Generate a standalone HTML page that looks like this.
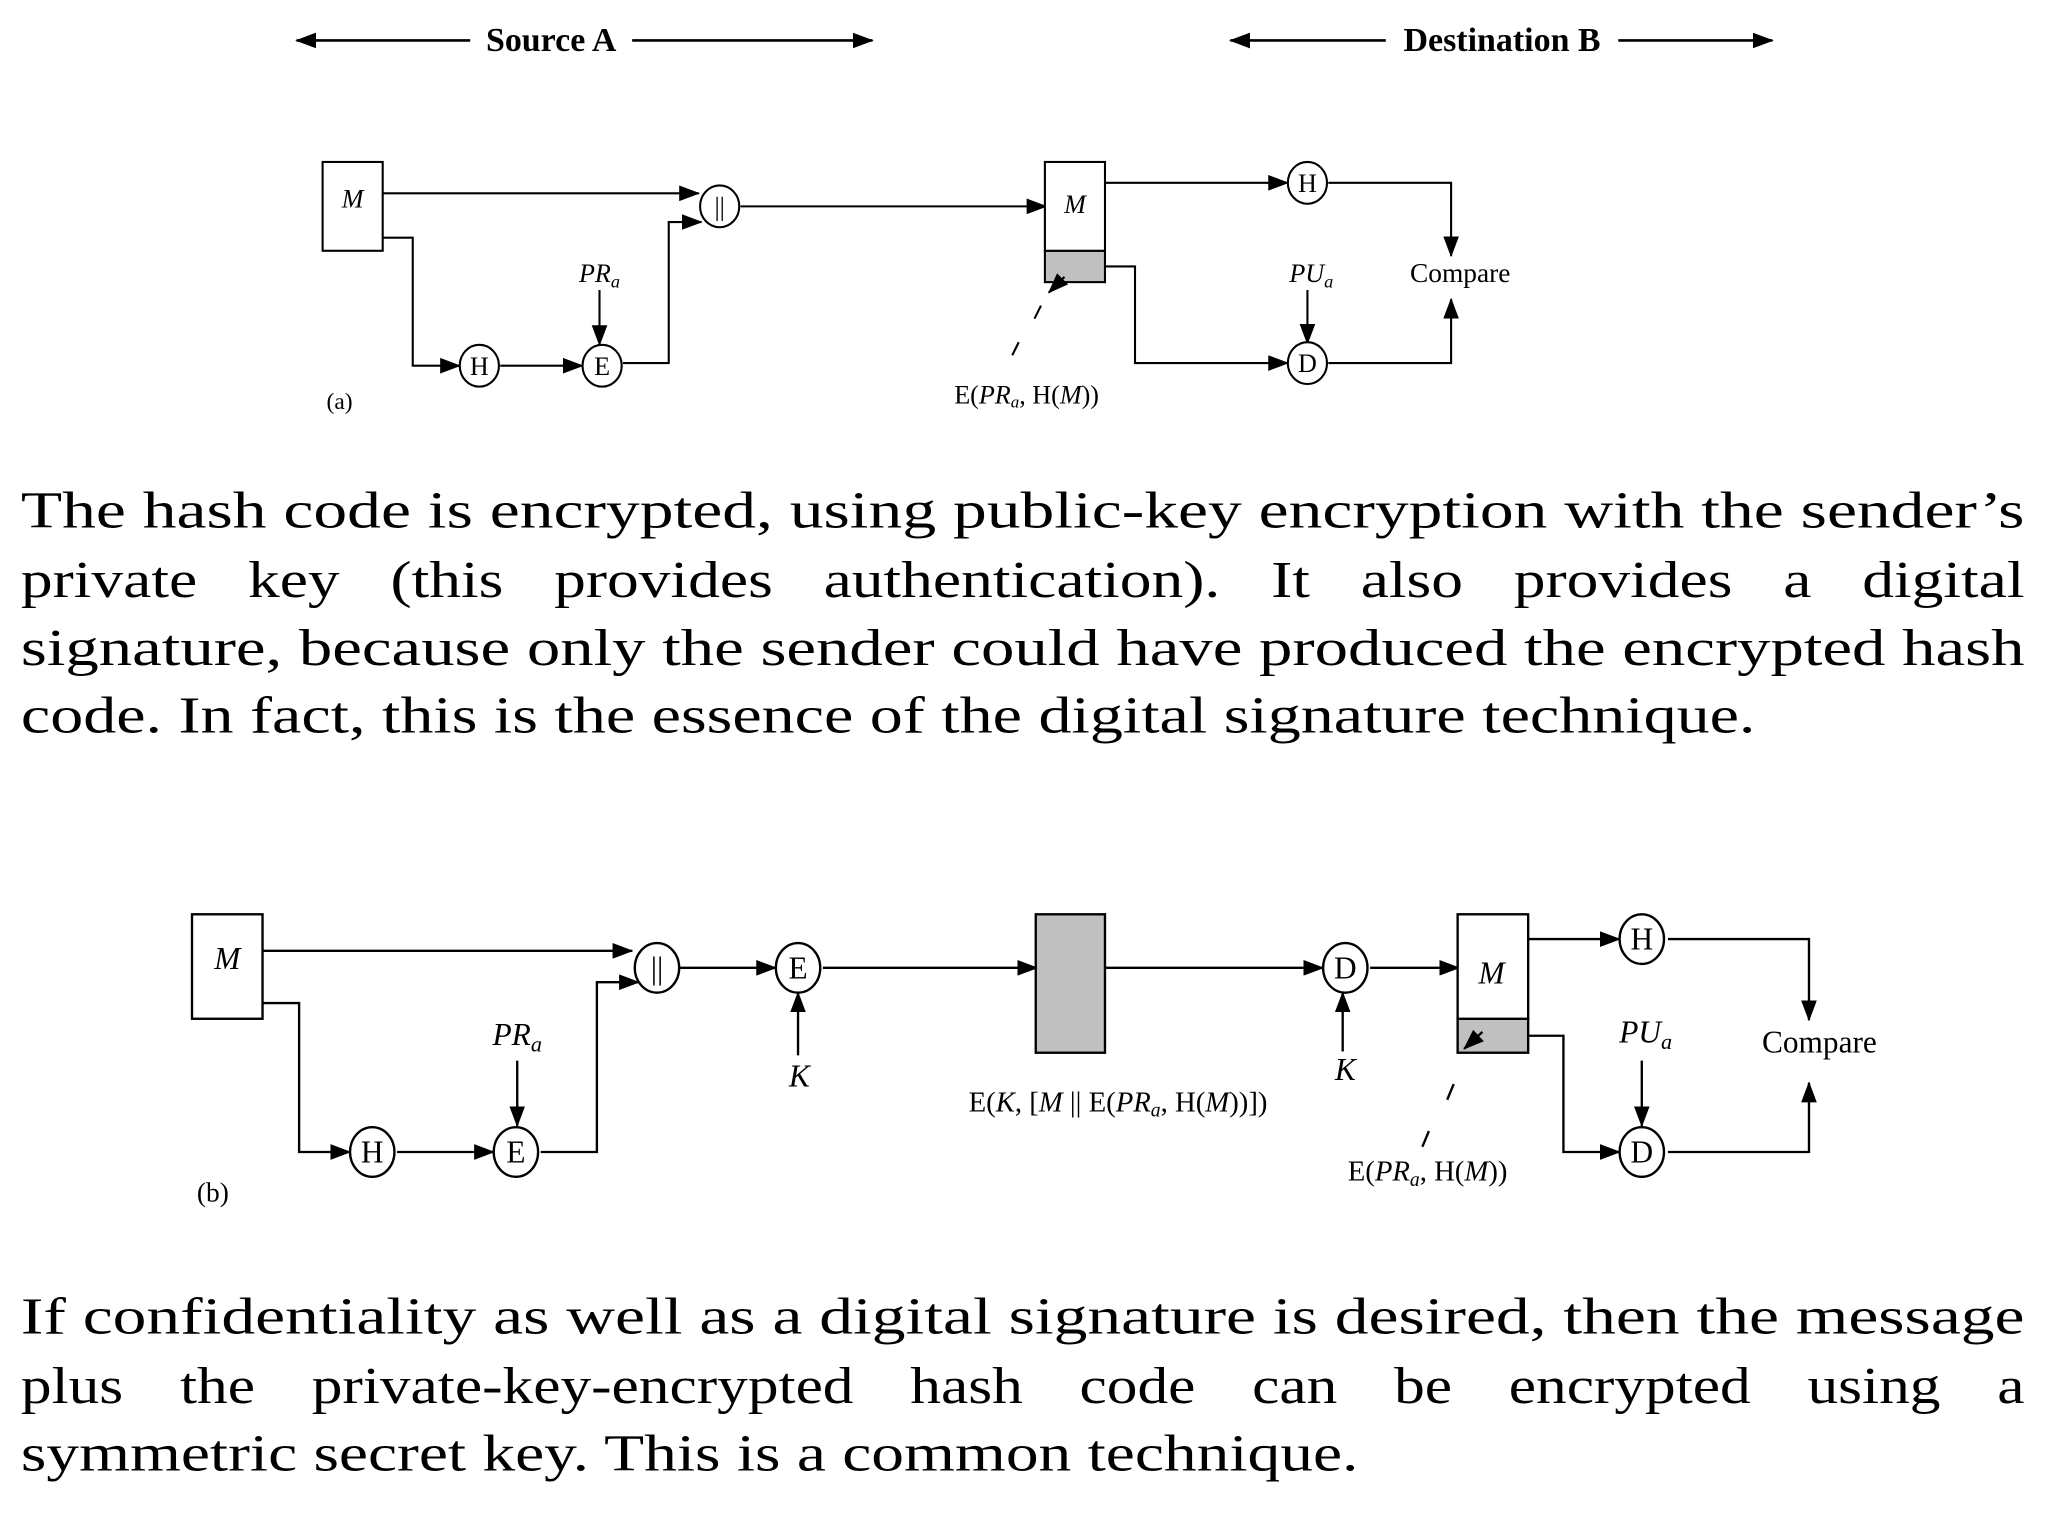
<!DOCTYPE html>
<html><head><meta charset="utf-8"><style>
html,body{margin:0;padding:0;background:#fff;}
svg{display:block;}
.d{font-family:"Liberation Serif",serif;}
</style></head><body>
<svg width="2048" height="1536" viewBox="0 0 1568 1176" xmlns="http://www.w3.org/2000/svg">
<defs>
<marker id="a" markerUnits="userSpaceOnUse" markerWidth="16" markerHeight="12" refX="15" refY="6" orient="auto">
<path d="M0,0 L16,6 L0,12 z" fill="#000"/></marker>
</defs>
<rect width="1568" height="1176" fill="#fff"/>
<g stroke="#000" stroke-width="2" fill="none">
<line x1="360" y1="31" x2="227" y2="31" marker-end="url(#a)"/>
<line x1="484" y1="31" x2="668" y2="31" marker-end="url(#a)"/>
<line x1="1061" y1="31" x2="942" y2="31" marker-end="url(#a)"/>
<line x1="1239" y1="31" x2="1357" y2="31" marker-end="url(#a)"/>
</g>
<g class="d" font-weight="bold" font-size="26" text-anchor="middle">
<text x="422" y="39">Source A</text>
<text x="1150" y="39">Destination B</text>
</g>

<g stroke="#000" stroke-width="1.6" fill="none">
<rect x="247" y="124" width="46" height="68" fill="#fff"/>
<path d="M293,148 H535" marker-end="url(#a)"/>
<path d="M293,182 H316 V280 H352" marker-end="url(#a)"/>
<path d="M383,280 H446" marker-end="url(#a)"/>
<path d="M459,222 V264" marker-end="url(#a)"/>
<path d="M477,278 H512 V170 H537" marker-end="url(#a)"/>
<path d="M567,158 H801" marker-end="url(#a)"/>
<rect x="800" y="192" width="46" height="24" fill="#c0c0c0"/>
<rect x="800" y="124" width="46" height="68" fill="#fff"/>
<path d="M846,140 H986" marker-end="url(#a)"/>
<path d="M1017,140 H1111 V196" marker-end="url(#a)"/>
<path d="M846,204 H869 V278 H986" marker-end="url(#a)"/>
<path d="M1001,222 V263" marker-end="url(#a)"/>
<path d="M1017,278 H1111 V229" marker-end="url(#a)"/>
<path d="M815,212 L803,224" marker-end="url(#a)"/>
<path d="M797,234 L792,244 M780,262 L775,272"/>
<ellipse cx="551" cy="158" rx="15" ry="16" fill="#fff"/>
<ellipse cx="367" cy="280" rx="15" ry="16" fill="#fff"/>
<ellipse cx="461" cy="280" rx="15" ry="16" fill="#fff"/>
<ellipse cx="1001" cy="140" rx="15" ry="16" fill="#fff"/>
<ellipse cx="1001" cy="278" rx="15" ry="16" fill="#fff"/>
</g>
<g class="d" font-size="20" text-anchor="middle">
<text x="270" y="159" font-style="italic">M</text>
<text x="823" y="163" font-style="italic">M</text>
<text x="551" y="165">||</text>
<text x="367" y="287">H</text>
<text x="461" y="287">E</text>
<text x="1001" y="147">H</text>
<text x="1001" y="285">D</text>
<text x="459" y="216" font-style="italic">PR<tspan font-size="14" dy="4">a</tspan></text>
<text x="1004" y="216" font-style="italic">PU<tspan font-size="14" dy="4">a</tspan></text>
<text x="1118" y="216" font-size="21">Compare</text>
<text x="786" y="309">E(<tspan font-style="italic">PR</tspan><tspan font-size="13" dy="3" font-style="italic">a</tspan><tspan dy="-3">, H(</tspan><tspan font-style="italic">M</tspan>))</text>
<text x="260" y="313" font-size="18">(a)</text>
</g>

<g stroke="#000" stroke-width="1.8" fill="none">
<rect x="147" y="700" width="54" height="80" fill="#fff"/>
<path d="M201,728 H484" marker-end="url(#a)"/>
<path d="M201,768 H229 V882 H268" marker-end="url(#a)"/>
<path d="M304,882 H378" marker-end="url(#a)"/>
<path d="M396,812 V862" marker-end="url(#a)"/>
<path d="M414,882 H457 V752 H489" marker-end="url(#a)"/>
<path d="M520,741 H594" marker-end="url(#a)"/>
<path d="M611,808 V760" marker-end="url(#a)"/>
<path d="M630,741 H794" marker-end="url(#a)"/>
<rect x="793" y="700" width="53" height="106" fill="#c0c0c0"/>
<path d="M846,741 H1013" marker-end="url(#a)"/>
<path d="M1028,805 V760" marker-end="url(#a)"/>
<path d="M1049,741 H1117" marker-end="url(#a)"/>
<rect x="1116" y="780" width="54" height="26" fill="#c0c0c0"/>
<rect x="1116" y="700" width="54" height="80" fill="#fff"/>
<path d="M1170,719 H1240" marker-end="url(#a)"/>
<path d="M1277,719 H1385 V781" marker-end="url(#a)"/>
<path d="M1170,793 H1197 V882 H1240" marker-end="url(#a)"/>
<path d="M1257,812 V862" marker-end="url(#a)"/>
<path d="M1277,882 H1385 V829" marker-end="url(#a)"/>
<path d="M1135,790 L1121,803" marker-end="url(#a)"/>
<path d="M1113,830 L1108,842 M1094,866 L1089,878"/>
<ellipse cx="503" cy="741" rx="17" ry="19" fill="#fff"/>
<ellipse cx="611" cy="741" rx="17" ry="19" fill="#fff"/>
<ellipse cx="1030" cy="741" rx="17" ry="19" fill="#fff"/>
<ellipse cx="285" cy="882" rx="17" ry="19" fill="#fff"/>
<ellipse cx="395" cy="882" rx="17" ry="19" fill="#fff"/>
<ellipse cx="1257" cy="719" rx="17" ry="19" fill="#fff"/>
<ellipse cx="1257" cy="882" rx="17" ry="19" fill="#fff"/>
</g>
<g class="d" font-size="24" text-anchor="middle">
<text x="174" y="742" font-style="italic">M</text>
<text x="1142" y="753" font-style="italic">M</text>
<text x="503" y="749">||</text>
<text x="611" y="749">E</text>
<text x="1030" y="749">D</text>
<text x="285" y="890">H</text>
<text x="395" y="890">E</text>
<text x="1257" y="727">H</text>
<text x="1257" y="890">D</text>
<text x="612" y="832" font-style="italic">K</text>
<text x="1030" y="827" font-style="italic">K</text>
<text x="396" y="800" font-style="italic">PR<tspan font-size="17" dy="5">a</tspan></text>
<text x="1260" y="798" font-style="italic">PU<tspan font-size="17" dy="5">a</tspan></text>
<text x="1393" y="806">Compare</text>
<text x="856" y="851" font-size="22">E(<tspan font-style="italic">K</tspan>, [<tspan font-style="italic">M</tspan> || E(<tspan font-style="italic">PR</tspan><tspan font-size="15" dy="4" font-style="italic">a</tspan><tspan dy="-4">, H(</tspan><tspan font-style="italic">M</tspan>))])</text>
<text x="1093" y="904" font-size="22">E(<tspan font-style="italic">PR</tspan><tspan font-size="15" dy="4" font-style="italic">a</tspan><tspan dy="-4">, H(</tspan><tspan font-style="italic">M</tspan>))</text>
<text x="163" y="920" font-size="21">(b)</text>
</g>

<g class="d" font-size="40" fill="#000">
<text x="16" y="404" textLength="1534" lengthAdjust="spacingAndGlyphs">The hash code is encrypted, using public-key encryption with the sender’s</text>
<text x="16" y="457" textLength="1534" lengthAdjust="spacingAndGlyphs" word-spacing="22">private key (this provides authentication). It also provides a digital</text>
<text x="16" y="509" textLength="1534" lengthAdjust="spacingAndGlyphs">signature, because only the sender could have produced the encrypted hash</text>
<text x="16" y="561" textLength="1328" lengthAdjust="spacingAndGlyphs">code. In fact, this is the essence of the digital signature technique.</text>
<text x="16" y="1021" textLength="1534" lengthAdjust="spacingAndGlyphs">If confidentiality as well as a digital signature is desired, then the message</text>
<text x="16" y="1074" textLength="1534" lengthAdjust="spacingAndGlyphs" word-spacing="27">plus the private-key-encrypted hash code can be encrypted using a</text>
<text x="16" y="1126" textLength="1024" lengthAdjust="spacingAndGlyphs">symmetric secret key. This is a common technique.</text>
</g>
</svg>
</body></html>
